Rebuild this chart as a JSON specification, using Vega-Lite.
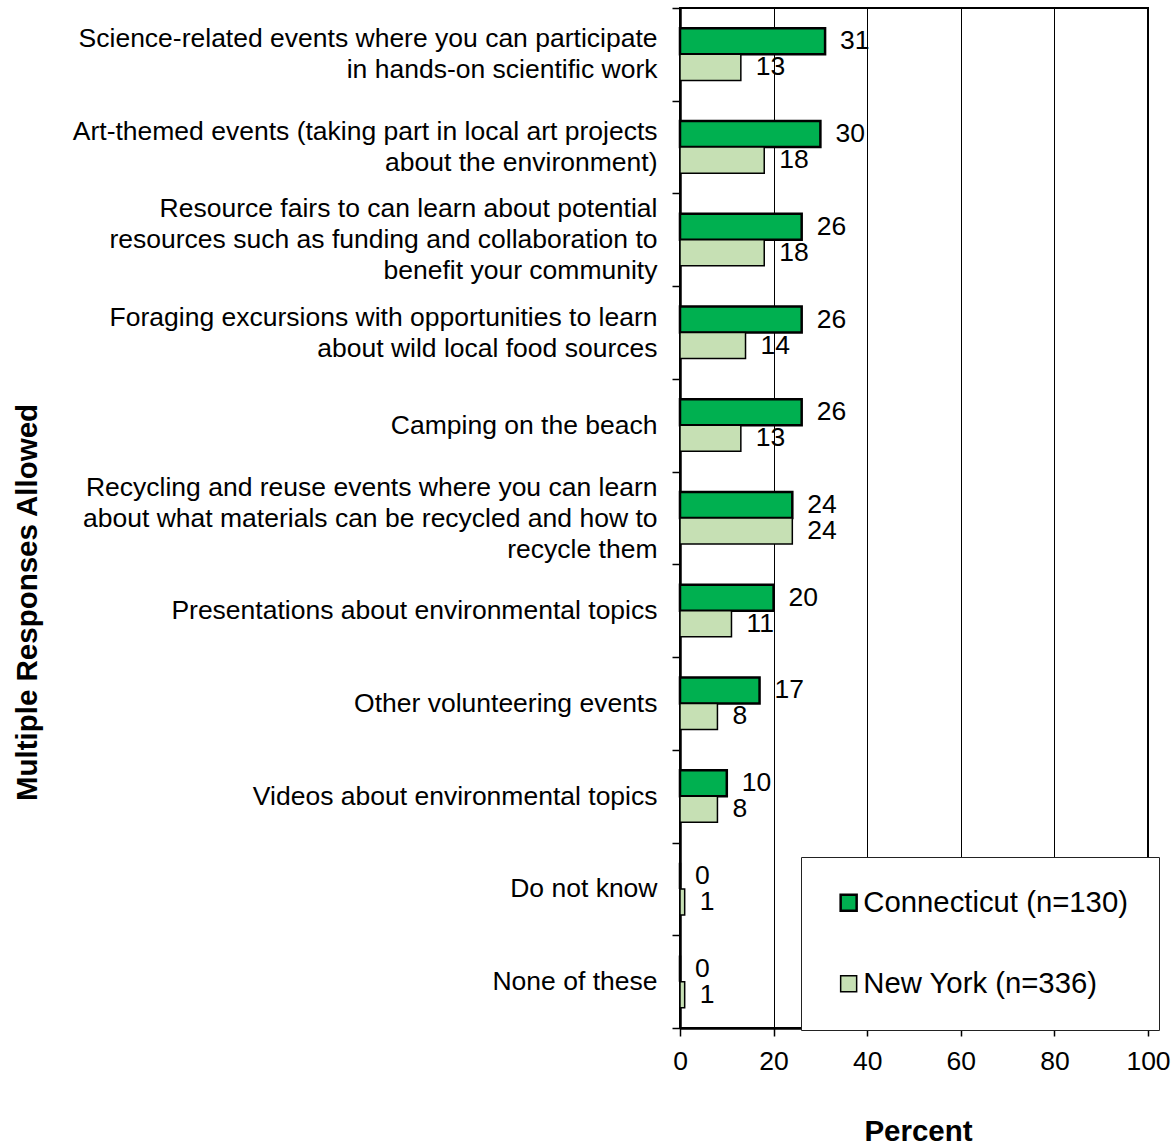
{
  "$schema": "https://vega.github.io/schema/vega-lite/v6.json",
  "width": 468,
  "height": 1020,
  "autosize": {"type": "none"},
  "padding": {"left": 680, "top": 8, "right": 28, "bottom": 118},
  "background": "white",
  "config": {
    "font": "Liberation Sans",
    "view": {"stroke": "black", "strokeWidth": 2}
  },
  "data": {
    "values": [
      {"item": "Science-related events where you can participate|in hands-on scientific work", "state": "Connecticut (n=130)", "pct": 31},
      {"item": "Science-related events where you can participate|in hands-on scientific work", "state": "New York (n=336)", "pct": 13},
      {"item": "Art-themed events (taking part in local art projects|about the environment)", "state": "Connecticut (n=130)", "pct": 30},
      {"item": "Art-themed events (taking part in local art projects|about the environment)", "state": "New York (n=336)", "pct": 18},
      {"item": "Resource fairs to can learn about potential|resources such as funding and collaboration to|benefit your community", "state": "Connecticut (n=130)", "pct": 26},
      {"item": "Resource fairs to can learn about potential|resources such as funding and collaboration to|benefit your community", "state": "New York (n=336)", "pct": 18},
      {"item": "Foraging excursions with opportunities to learn|about wild local food sources", "state": "Connecticut (n=130)", "pct": 26},
      {"item": "Foraging excursions with opportunities to learn|about wild local food sources", "state": "New York (n=336)", "pct": 14},
      {"item": "Camping on the beach", "state": "Connecticut (n=130)", "pct": 26},
      {"item": "Camping on the beach", "state": "New York (n=336)", "pct": 13},
      {"item": "Recycling and reuse events where you can learn|about what materials can be recycled and how to|recycle them", "state": "Connecticut (n=130)", "pct": 24},
      {"item": "Recycling and reuse events where you can learn|about what materials can be recycled and how to|recycle them", "state": "New York (n=336)", "pct": 24},
      {"item": "Presentations about environmental topics", "state": "Connecticut (n=130)", "pct": 20},
      {"item": "Presentations about environmental topics", "state": "New York (n=336)", "pct": 11},
      {"item": "Other volunteering events", "state": "Connecticut (n=130)", "pct": 17},
      {"item": "Other volunteering events", "state": "New York (n=336)", "pct": 8},
      {"item": "Videos about environmental topics", "state": "Connecticut (n=130)", "pct": 10},
      {"item": "Videos about environmental topics", "state": "New York (n=336)", "pct": 8},
      {"item": "Do not know", "state": "Connecticut (n=130)", "pct": 0},
      {"item": "Do not know", "state": "New York (n=336)", "pct": 1},
      {"item": "None of these", "state": "Connecticut (n=130)", "pct": 0},
      {"item": "None of these", "state": "New York (n=336)", "pct": 1}
    ]
  },
  "encoding": {
    "y": {
      "field": "item",
      "type": "nominal",
      "sort": null,
      "scale": {"paddingInner": 0, "paddingOuter": 0},
      "axis": {
        "title": "Multiple Responses Allowed",
        "titleFontSize": 29.5,
        "titleFontWeight": "bold",
        "titleColor": "black",
        "titleX": -653,
        "titleY": 594,
        "titleAngle": -90,
        "titleAlign": "center",
        "titleBaseline": "middle",
        "labelExpr": "split(datum.label, '|')",
        "labelFontSize": 26.5,
        "labelLineHeight": 31,
        "labelPadding": 15,
        "labelLimit": 800,
        "labelColor": "black",
        "labelOffset": {
          "condition": [
            {"test": "length(split(datum.value, '|')) == 3", "value": -31},
            {"test": "length(split(datum.value, '|')) == 2", "value": -15.5}
          ],
          "value": 0
        },
        "tickBand": "extent",
        "tickSize": 8,
        "tickColor": "black",
        "tickWidth": 1.5,
        "domainColor": "black",
        "domainWidth": 2.5,
        "grid": false
      }
    },
    "yOffset": {
      "field": "state",
      "type": "nominal",
      "sort": null,
      "scale": {"paddingInner": 0, "paddingOuter": 0.78}
    },
    "x": {
      "field": "pct",
      "type": "quantitative",
      "scale": {"domain": [0, 100], "nice": false},
      "axis": {
        "title": "Percent",
        "titleFontSize": 29.5,
        "titleFontWeight": "bold",
        "titleColor": "black",
        "titleX": 238,
        "titleY": 103,
        "titleBaseline": "middle",
        "values": [0, 20, 40, 60, 80, 100],
        "labelFontSize": 26.5,
        "labelColor": "black",
        "labelFlush": false,
        "labelPadding": 12,
        "tickSize": 8,
        "tickColor": "black",
        "tickWidth": 1.5,
        "domainColor": "black",
        "domainWidth": 2.5,
        "grid": true,
        "gridColor": "black",
        "gridWidth": 1
      }
    }
  },
  "layer": [
    {
      "mark": {"type": "bar", "stroke": "black"},
      "encoding": {
        "color": {
          "field": "state",
          "type": "nominal",
          "scale": {"domain": ["Connecticut (n=130)", "New York (n=336)"], "range": ["#00B050", "#C6E0B4"]},
          "legend": {
            "title": null,
            "orient": "none",
            "legendX": 121,
            "legendY": 849,
            "padding": 31,
            "fillColor": "white",
            "strokeColor": "#222222",
            "symbolType": "square",
            "symbolSize": 256,
            "symbolStrokeColor": "black",
            "symbolStrokeWidth": 2,
            "symbolOffset": 2,
            "labelFontSize": 29.3,
            "labelColor": "black",
            "labelOffset": 0,
            "labelLimit": 500,
            "rowPadding": 51
          }
        },
        "strokeWidth": {
          "field": "state",
          "type": "nominal",
          "scale": {"domain": ["Connecticut (n=130)", "New York (n=336)"], "range": [2.5, 1.5]},
          "legend": null
        }
      }
    },
    {
      "mark": {"type": "text", "align": "left", "baseline": "middle", "dx": 15, "fontSize": 26.5, "color": "black"},
      "encoding": {"text": {"field": "pct", "type": "quantitative"}}
    }
  ]
}
